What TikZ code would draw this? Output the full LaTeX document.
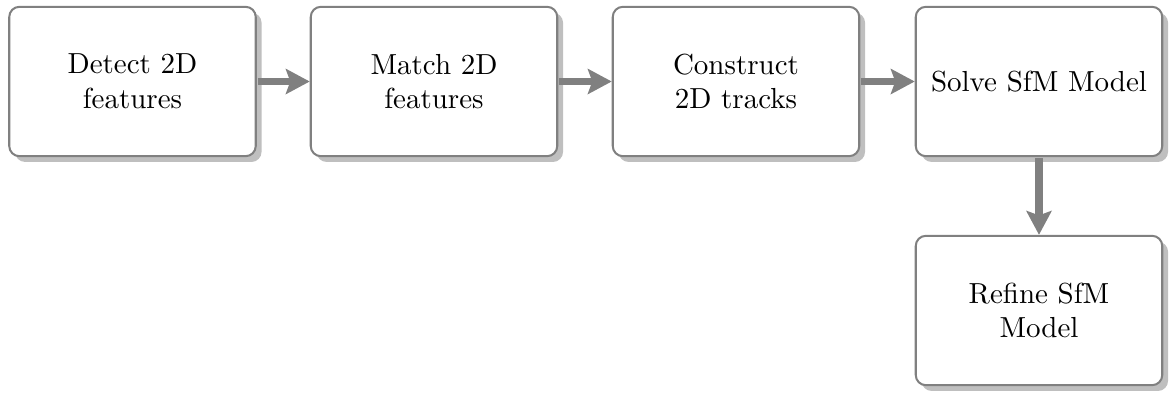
\documentclass[tikz,border=0pt]{standalone}
\usetikzlibrary{shadows,arrows.meta}
\begin{document}
\begin{tikzpicture}[x=0.3448pt,y=-0.3448pt,
  stepbox/.style={draw=black!50, line width=0.7pt, rounded corners=3.5pt, fill=white,
    minimum width=85pt, minimum height=51.5pt, align=center, inner sep=2pt,
    drop shadow={shadow xshift=2pt, shadow yshift=-2pt, fill=black!25, opacity=1}},
  flow/.style={draw=black!50, line width=2.5pt, -{Stealth[length=8.2pt,width=8.6pt,inset=1.5pt]}, shorten <=0.4pt}]
\useasboundingbox (0,0) rectangle (1171,392);
\node[stepbox] (a) at (132.5,81.5) {Detect 2D\\features};
\node[stepbox] (b) at (434,81.5) {Match 2D\\features};
\node[stepbox] (c) at (736,81.5) {Construct\\2D tracks};
\node[stepbox] (d) at (1039,81.5) {Solve SfM Model};
\node[stepbox] (e) at (1039,310.5) {Refine SfM\\Model};
\draw[flow] (a) -- (b);
\draw[flow] (b) -- (c);
\draw[flow] (c) -- (d);
\draw[flow] (d) -- (e);
\end{tikzpicture}
\end{document}
